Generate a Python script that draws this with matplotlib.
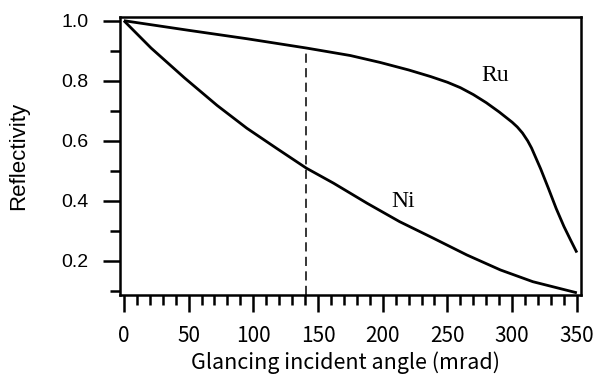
import matplotlib
matplotlib.use("Agg")
import matplotlib.pyplot as plt
from matplotlib.ticker import MultipleLocator

# glancing angle (mrad) vs reflectivity
ru_x = [0, 50, 95, 141, 175, 198, 220, 237, 250, 260, 270, 280, 290, 300, 304, 308, 312,
        315, 322, 328, 334, 340, 345, 350]
ru_y = [1.0, 0.968, 0.940, 0.909, 0.884, 0.861, 0.836, 0.814, 0.795, 0.777, 0.754, 0.727,
        0.696, 0.662, 0.646, 0.626, 0.600, 0.576, 0.507, 0.442, 0.375, 0.315, 0.271, 0.228]
ni_x = [0, 21, 47, 72, 95, 118, 141, 162, 188, 213, 239, 265, 291, 316, 350]
ni_y = [1.0, 0.909, 0.809, 0.718, 0.642, 0.575, 0.509, 0.459, 0.392, 0.331, 0.276, 0.220,
        0.170, 0.131, 0.094]
marker_x = 141          # dashed guide, drawn up to the Ru curve
marker_top = 0.909
labels = [("Ru", 286.5, 0.817), ("Ni", 216.0, 0.398)]

XLIM = (-3.0, 353.2)
YLIM = (0.0867, 1.0123)

SANS = ["Liberation Sans", "DejaVu Sans"]
JP = ["Noto Sans CJK JP", "DejaVu Sans"]
SERIF = ["Liberation Serif", "DejaVu Serif"]

fig = plt.figure(figsize=(5.94, 3.76), dpi=100)
ax = fig.add_axes([120 / 594, 1 - 295 / 376, 461 / 594, 278 / 376])

for xs, ys in ((ru_x, ru_y), (ni_x, ni_y)):
    ax.plot(xs, ys, color="k", lw=2.0, solid_capstyle="butt",
            solid_joinstyle="round")
ax.vlines(marker_x, YLIM[0], marker_top, colors="k", lw=1.1,
          linestyles=(0, (6, 3.5)))
for txt, x, y in labels:
    ax.text(x, y, txt, family=SERIF, fontsize=17, ha="center", va="center")

ax.set_xlim(*XLIM)
ax.set_ylim(*YLIM)
ax.xaxis.set_major_locator(MultipleLocator(50))
ax.xaxis.set_minor_locator(MultipleLocator(10))
ax.yaxis.set_minor_locator(MultipleLocator(0.1))
ax.set_yticks([0.2, 0.4, 0.6, 0.8, 1.0])
ax.set_yticklabels(["0.2", "0.4", "0.6", "0.8", "1.0"])

for s in ax.spines.values():
    s.set_linewidth(1.8)
ax.tick_params(axis="both", which="both", direction="out", width=1.8, color="k")
ax.tick_params(axis="y", which="major", length=12.2, pad=10.5)
ax.tick_params(axis="y", which="minor", length=7.2)
ax.tick_params(axis="x", which="major", length=12.5, pad=9)
ax.tick_params(axis="x", which="minor", length=7)
for t in ax.get_yticklabels():
    t.set_family(SANS)
    t.set_fontsize(14)
for t in ax.get_xticklabels():
    t.set_family(JP)
    t.set_fontsize(15)

ax.set_ylabel("Reflectivity", family=SANS, fontsize=16)
ax.yaxis.set_label_coords(-0.197, 0.5)
ax.set_xlabel("Glancing incident angle (mrad)", family=JP, fontsize=15.5)
ax.xaxis.set_label_coords(0.49, -0.245)
ax.xaxis.label.set_verticalalignment("center")

fig.savefig("out.png", dpi=100)
